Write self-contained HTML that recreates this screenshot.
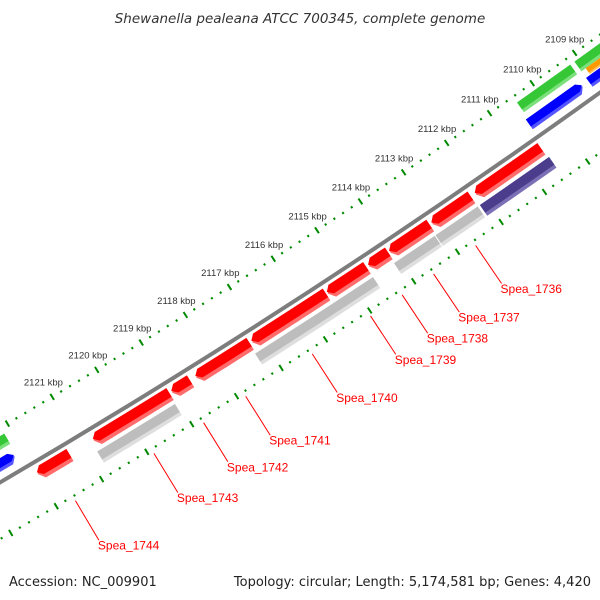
<!DOCTYPE html>
<html><head><meta charset="utf-8"><style>
html,body{margin:0;padding:0;background:#fff;}
svg{display:block;font-family:"Liberation Sans",sans-serif;}
</style></head><body>
<svg id="map" width="600" height="600" viewBox="0 0 600 600" xmlns="http://www.w3.org/2000/svg">
<rect x="0" y="0" width="600" height="600" fill="#fff"/>
<text x="300" y="23" text-anchor="middle" font-size="13.5" font-style="italic" fill="#333" style="font-family:'DejaVu Sans',sans-serif">Shewanella pealeana ATCC 700345, complete genome</text>
<g id="ticks"></g>
<g id="genes"></g>
<g id="labels"></g>
<text x="9" y="586" font-size="13" fill="#222" style="font-family:'DejaVu Sans',sans-serif">Accession: NC_009901</text>
<text x="591" y="586" text-anchor="end" font-size="13" fill="#222" style="font-family:'DejaVu Sans',sans-serif">Topology: circular; Length: 5,174,581 bp; Genes: 4,420</text>
</svg>
<script>
// gene data (kbp)
const geneStart = [2110.58, 2112.20, 2113.15, 2114.10, 2114.60, 2115.52, 2117.25, 2118.59, 2119.05, 2121.28,
                   2110.55, 2112.20, 2113.19, 2114.60, 2119.07,
                   2109.20, 2106.50, 2122.15,
                   2109.25, 2106.50, 2122.20,
                   2106.50];
const geneEnd   = [2112.10, 2113.10, 2114.07, 2114.55, 2115.49, 2117.20, 2118.46, 2119.00, 2120.75, 2121.99,
                   2112.15, 2113.17, 2114.12, 2117.27, 2120.80,
                   2110.45, 2109.10, 2125.50,
                   2110.50, 2109.10, 2125.50,
                   2109.00];
const geneRow   = ['C','C','C','C','C','C','C','C','C','C',
                   'D','D','D','D','D',
                   'A','A','A',
                   'B','B2','B',
                   'O'];
const geneArrow = ['end','end','end','end','end','end','end','end','end','end',
                   'none','none','none','none','none',
                   'none','none','none',
                   'start','start','start',
                   'none'];
const geneColor = ['red','red','red','red','red','red','red','red','red','red',
                   'purple','gray','gray','gray','gray',
                   'green','green','green',
                   'blue','blue','blue',
                   'orange'];
const geneLabel = ['', 'Spea_1736','Spea_1737','Spea_1738','Spea_1739','Spea_1740','Spea_1741','Spea_1742','Spea_1743','Spea_1744',
                   '','','','','', '','','', '','','', ''];
const tickMajors = [2107,2108,2109,2110,2111,2112,2113,2114,2115,2116,2117,2118,2119,2120,2121,2122,2123,2124,2125];
const tickLabelKbp = [2109,2110,2111,2112,2113,2114,2115,2116,2117,2118,2119,2120,2121];
const tickLabelText = tickLabelKbp.map(k => k + ' kbp');

const CX=-3857, CY=-6109, A0=54.67, DEG_PER_KBP=0.3936, REF=2110;
const R_TOP=7590, R_BB=7637, R_BOT=7686;
const ROWS={A:[7597,7609],O:[7609,7616],B:[7616,7628],B2:[7617,7628],C:[7642,7656],D:[7660,7673]};
const COLORS={red:['#ff0000','#ff6a6a','#cc0000'],gray:['#bdbdbd','#dedede','#909090'],
  purple:['#4b3d8c','#7b70b5','#372b6e'],green:['#36c736','#7be07b','#229922'],
  blue:['#0000ff','#5555ff','#0000bb'],orange:['#ff9900','#ffc060','#cc7700']};
const NS='http://www.w3.org/2000/svg';
function ang(k){return (A0+(k-REF)*DEG_PER_KBP)*Math.PI/180;}
function pt(k,r){const a=ang(k);return [CX+r*Math.cos(a),CY+r*Math.sin(a)];}
function f(p){return p[0].toFixed(2)+' '+p[1].toFixed(2);}
function genePath(k1,k2,r0,r1,arrow){
  const ah=0.1, rm=(r0+r1)/2;
  let a=k1,b=k2;
  if(arrow==='start') a=Math.min(k1+ah,k2);
  if(arrow==='end') b=Math.max(k2-ah,k1);
  let d='M'+f(pt(a,r0))+' A'+r0+' '+r0+' 0 0 1 '+f(pt(b,r0));
  if(arrow==='end') d+=' L'+f(pt(k2,rm));
  d+=' L'+f(pt(b,r1))+' A'+r1+' '+r1+' 0 0 0 '+f(pt(a,r1));
  if(arrow==='start') d+=' L'+f(pt(k1,rm));
  return d+' Z';
}
const tg=document.getElementById('ticks');
const bb=document.createElementNS(NS,'path');


bb.setAttribute('d','M'+f(pt(2106,R_BB))+' A'+R_BB+' '+R_BB+' 0 0 1 '+f(pt(2126,R_BB)));
bb.setAttribute('fill','none');bb.setAttribute('stroke','#7d7d7d');bb.setAttribute('stroke-width','4');
tg.appendChild(bb);
for(let i=0;i<=90;i++){
  const k=2107+i*0.2;
  const major=Math.abs(k-Math.round(k))<1e-6;
  [R_TOP,R_BOT].forEach(R=>{
    const h=major?3.5:1.1;
    const ln=document.createElementNS(NS,'line');
    
    
    const p1=pt(k,R-h),p2=pt(k,R+h);
    ln.setAttribute('x1',p1[0]);ln.setAttribute('y1',p1[1]);
    ln.setAttribute('x2',p2[0]);ln.setAttribute('y2',p2[1]);
    ln.setAttribute('stroke','#008a00');ln.setAttribute('stroke-width','2');
    tg.appendChild(ln);
  });
}
tickLabelKbp.forEach((k,i)=>{
  const p=pt(k,R_TOP-17);
  const t=document.createElementNS(NS,'text');
  
  
  t.setAttribute('x',p[0]);t.setAttribute('y',p[1]+3.3);
  t.setAttribute('text-anchor','middle');t.setAttribute('font-size','9.5');t.setAttribute('fill','#333');
  t.textContent=tickLabelText[i];
  tg.appendChild(t);
});
const gg=document.getElementById('genes');
const lg=document.getElementById('labels');
geneStart.forEach((s,i)=>{
  const e=geneEnd[i], rr=ROWS[geneRow[i]], c=COLORS[geneColor[i]];
  const r0=rr[0], r1=rr[1], h=r1-r0;
  const g=document.createElementNS(NS,'g');
  
  
  const p1=document.createElementNS(NS,'path');
  
  
  p1.setAttribute('d',genePath(s,e,r0,r1,geneArrow[i]));p1.setAttribute('fill',c[1]);
  g.appendChild(p1);
  const p2=document.createElementNS(NS,'path');
  
  
  p2.setAttribute('d',genePath(s,e,r0,r0+h*0.72,geneArrow[i]));p2.setAttribute('fill',c[0]);
  g.appendChild(p2);
  gg.appendChild(g);
  if(geneLabel[i]){
    const m=(s+e)/2;
    const a=pt(m,7691), b=pt(m,7737);
    const ln=document.createElementNS(NS,'line');
    
    
    ln.setAttribute('x1',a[0]);ln.setAttribute('y1',a[1]);ln.setAttribute('x2',b[0]);ln.setAttribute('y2',b[1]);
    ln.setAttribute('stroke','#ff0000');ln.setAttribute('stroke-width','1');
    lg.appendChild(ln);
    const t=document.createElementNS(NS,'text');
    
    
    t.setAttribute('x',b[0]-1);t.setAttribute('y',b[1]+9.5);
    t.setAttribute('font-size','12');t.setAttribute('fill','#ff0000');
    t.textContent=geneLabel[i];
    lg.appendChild(t);
  }
});
</script>
</body></html>
